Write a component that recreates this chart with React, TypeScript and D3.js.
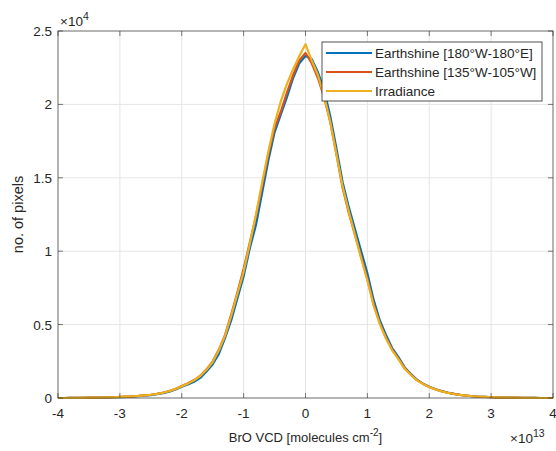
import React from 'react';
import * as d3 from 'd3';

// bin centres, BrO VCD in units of 1e13 molecules cm^-2
const vcdBins = [
  -4.0, -3.9, -3.8, -3.7, -3.6, -3.5, -3.4, -3.3, -3.2, -3.1,
  -3.0, -2.9, -2.8, -2.7, -2.6, -2.5, -2.4, -2.3, -2.2, -2.1,
  -2.0, -1.9, -1.8, -1.7, -1.6, -1.5, -1.4, -1.3, -1.2, -1.1,
  -1.0, -0.9, -0.8, -0.7, -0.6, -0.5, -0.4, -0.3, -0.2, -0.1,
  0.0, 0.1, 0.2, 0.3, 0.4, 0.5, 0.6, 0.7, 0.8, 0.9,
  1.0, 1.1, 1.2, 1.3, 1.4, 1.5, 1.6, 1.7, 1.8, 1.9,
  2.0, 2.1, 2.2, 2.3, 2.4, 2.5, 2.6, 2.7, 2.8, 2.9,
  3.0, 3.1, 3.2, 3.3, 3.4, 3.5, 3.6, 3.7, 3.8, 3.9, 4.0,
];

// pixel counts in units of 1e4
const earthshineGlobal = [
  0.000, 0.000, 0.001, 0.001, 0.001, 0.002, 0.002, 0.003, 0.004, 0.005,
  0.006, 0.008, 0.010, 0.013, 0.016, 0.020, 0.026, 0.033, 0.043, 0.058,
  0.077, 0.092, 0.110, 0.137, 0.180, 0.230, 0.300, 0.410, 0.530, 0.680,
  0.830, 1.020, 1.180, 1.400, 1.620, 1.810, 1.930, 2.050, 2.180, 2.280,
  2.330, 2.310, 2.220, 2.100, 1.920, 1.700, 1.470, 1.300, 1.150, 1.000,
  0.850, 0.670, 0.530, 0.430, 0.340, 0.280, 0.210, 0.165, 0.125, 0.098,
  0.077, 0.060, 0.047, 0.037, 0.028, 0.021, 0.016, 0.012, 0.009, 0.007,
  0.005, 0.004, 0.003, 0.002, 0.002, 0.001, 0.001, 0.001, 0.000, 0.000, 0.000,
];

const earthshinePacific = [
  0.000, 0.000, 0.001, 0.001, 0.001, 0.002, 0.002, 0.003, 0.004, 0.005,
  0.007, 0.009, 0.011, 0.014, 0.018, 0.022, 0.029, 0.037, 0.048, 0.063,
  0.082, 0.100, 0.122, 0.152, 0.195, 0.250, 0.330, 0.430, 0.570, 0.720,
  0.880, 1.060, 1.240, 1.450, 1.660, 1.840, 1.950, 2.080, 2.200, 2.300,
  2.350, 2.280, 2.180, 2.050, 1.880, 1.660, 1.430, 1.260, 1.110, 0.960,
  0.810, 0.640, 0.510, 0.410, 0.330, 0.270, 0.205, 0.160, 0.122, 0.096,
  0.075, 0.059, 0.046, 0.036, 0.028, 0.021, 0.016, 0.012, 0.009, 0.007,
  0.005, 0.004, 0.003, 0.002, 0.002, 0.001, 0.001, 0.001, 0.000, 0.000, 0.000,
];

const irradiance = [
  0.000, 0.000, 0.001, 0.001, 0.001, 0.002, 0.002, 0.003, 0.004, 0.005,
  0.007, 0.009, 0.011, 0.014, 0.018, 0.022, 0.028, 0.036, 0.047, 0.062,
  0.080, 0.098, 0.120, 0.150, 0.192, 0.245, 0.325, 0.425, 0.560, 0.710,
  0.860, 1.050, 1.250, 1.470, 1.680, 1.870, 2.020, 2.140, 2.240, 2.330,
  2.410, 2.300, 2.200, 2.060, 1.880, 1.660, 1.440, 1.270, 1.110, 0.950,
  0.800, 0.630, 0.505, 0.405, 0.325, 0.265, 0.200, 0.158, 0.120, 0.095,
  0.074, 0.058, 0.045, 0.035, 0.027, 0.021, 0.016, 0.012, 0.009, 0.007,
  0.005, 0.004, 0.003, 0.002, 0.002, 0.001, 0.001, 0.001, 0.000, 0.000, 0.000,
];

const seriesNames = ['Earthshine [180°W-180°E]', 'Earthshine [135°W-105°W]', 'Irradiance'];
const seriesColors = ['#0072BD', '#D95319', '#EDB120'];
const xTicks = [-4, -3, -2, -1, 0, 1, 2, 3, 4];
const yTicks = [0, 0.5, 1, 1.5, 2, 2.5];

const W = 556;
const H = 451;
const margin = { top: 31, right: 3, bottom: 53, left: 58 };
const font = 'Liberation Sans, Arial, Helvetica, sans-serif';

export default function App() {
  const x = d3.scaleLinear().domain([-4, 4]).range([margin.left, W - margin.right]);
  const y = d3.scaleLinear().domain([0, 2.5]).range([H - margin.bottom, margin.top]);
  const x0 = x.range()[0], x1 = x.range()[1];
  const y0 = y.range()[0], y1 = y.range()[1];

  const line = d3.line<number>()
    .x((_, i) => x(vcdBins[i]))
    .y(d => y(d));

  const allSeries = [earthshineGlobal, earthshinePacific, irradiance];
  const axisColor = '#262626';

  return (
    <>
      <style>{'body{margin:0;overflow:hidden}'}</style>
      <svg width={W} height={H} style={{ display: 'block', background: '#fff' }} fontFamily={font}>
        {/* grid */}
        {xTicks.map(t => (
          <line key={'gx' + t} x1={x(t)} x2={x(t)} y1={y0} y2={y1} stroke="#e5e5e5" strokeWidth={1} />
        ))}
        {yTicks.map(t => (
          <line key={'gy' + t} x1={x0} x2={x1} y1={y(t)} y2={y(t)} stroke="#e5e5e5" strokeWidth={1} />
        ))}

        {/* data */}
        {allSeries.map((s, i) => (
          <path key={'s' + i} d={line(s) || ''} fill="none" stroke={seriesColors[i]}
            strokeWidth={2.2} strokeLinejoin="round" />
        ))}

        {/* axes box */}
        <rect x={x0} y={y1} width={x1 - x0} height={y0 - y1} fill="none" stroke={axisColor}
          strokeOpacity={0.6} strokeWidth={1} />
        {xTicks.map(t => (
          <g key={'tx' + t}>
            <line x1={x(t)} x2={x(t)} y1={y0} y2={y0 - 5} stroke={axisColor} strokeOpacity={0.6} />
            <line x1={x(t)} x2={x(t)} y1={y1} y2={y1 + 5} stroke={axisColor} strokeOpacity={0.6} />
            <text x={x(t)} y={y0 + 20} textAnchor="middle" fontSize={13.5} fill={axisColor}>{t}</text>
          </g>
        ))}
        {yTicks.map(t => (
          <g key={'ty' + t}>
            <line x1={x0} x2={x0 + 5} y1={y(t)} y2={y(t)} stroke={axisColor} strokeOpacity={0.6} />
            <line x1={x1} x2={x1 - 5} y1={y(t)} y2={y(t)} stroke={axisColor} strokeOpacity={0.6} />
            <text x={x0 - 6} y={y(t) + 5} textAnchor="end" fontSize={13.5} fill={axisColor}>{t}</text>
          </g>
        ))}

        {/* exponents */}
        <text x={x0 + 2} y={y1 - 5} fontSize={13.5} fill={axisColor}>
          ×10<tspan dy={-6} fontSize={10.5}>4</tspan>
        </text>
        <text x={x1 - 43} y={y0 + 45} fontSize={13.5} fill={axisColor}>
          ×10<tspan dy={-6} fontSize={10.5}>13</tspan>
        </text>

        {/* axis labels */}
        <text x={(x0 + x1) / 2} y={y0 + 44} textAnchor="middle" fontSize={13} fill={axisColor}>
          BrO VCD [molecules cm<tspan dy={-6} fontSize={10}>-2</tspan><tspan dy={6}>]</tspan>
        </text>
        <text transform={`translate(23,${(y0 + y1) / 2}) rotate(-90)`} textAnchor="middle" fontSize={14.5} fill={axisColor}>
          no. of pixels
        </text>

        {/* legend */}
        <g transform="translate(322,42)">
          <rect x={0} y={0} width={220} height={59} fill="#fff" stroke={axisColor} strokeOpacity={0.8} />
          {seriesNames.map((n, i) => (
            <g key={'l' + i} transform={`translate(0,${11 + i * 19})`}>
              <line x1={4} x2={50} y1={0} y2={0} stroke={seriesColors[i]} strokeWidth={2.2} />
              <text x={53} y={5} fontSize={13.5} fill={axisColor}>{n}</text>
            </g>
          ))}
        </g>
      </svg>
    </>
  );
}
